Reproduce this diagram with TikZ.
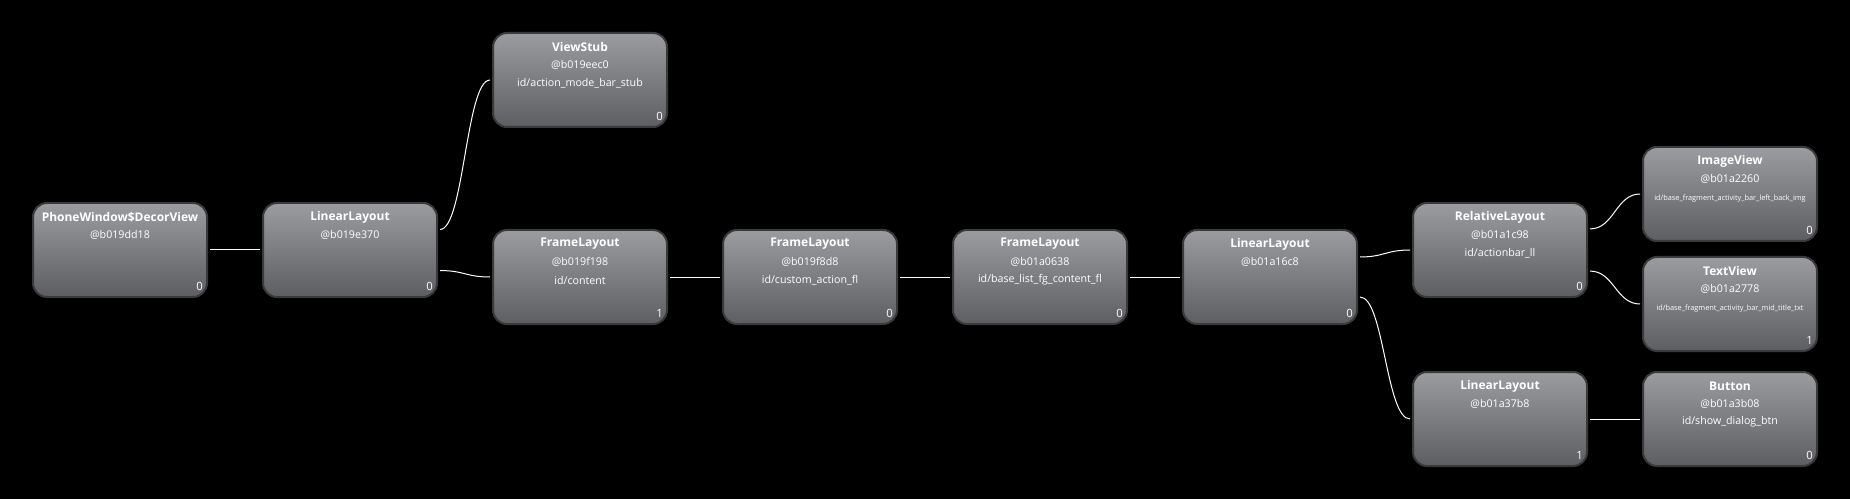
\documentclass[tikz,border=0pt]{standalone}
\usepackage{fontspec}
\setmainfont{Open Sans}
\usetikzlibrary{arrows.meta}

\begin{document}
\begin{tikzpicture}[x=0.75pt,y=-0.75pt]

\definecolor{hvback}{HTML}{000000}
\definecolor{hvtop}{HTML}{9A9C9F}
\definecolor{hvbottom}{HTML}{5C5E61}
\definecolor{hvborder}{HTML}{3A3A3A}
\definecolor{hvtext}{HTML}{FFFFFF}
\definecolor{hvlink}{HTML}{FFFFFF}

\tikzset{
  viewbox/.style={
    rectangle, rounded corners=10.5pt, draw=hvborder, line width=1.5pt,
    top color=hvtop, bottom color=hvbottom,
    minimum width=130.5pt, minimum height=70.5pt, inner sep=0pt
  },
  viewtitle/.style={text=hvtext, inner sep=0pt,
    font=\bfseries\fontsize{9}{10}\selectfont},
  viewaddr/.style={text=hvtext, inner sep=0pt,
    font=\fontsize{8}{9}\selectfont},
  viewid/.style={viewaddr},
  viewidsmall/.style={text=hvtext, inner sep=0pt,
    font=\fontsize{5.5}{6}\selectfont},
  viewindex/.style={text=hvtext, anchor=east, inner sep=0pt,
    font=\fontsize{8.5}{9}\selectfont},
  link/.style={draw=hvlink, line width=0.75pt}
}

% One box of the view tree: name, centre, class, address, child index.
\newcommand{\hvView}[6]{%
  \node[viewbox] (#1) at (#2,#3) {};
  \node[viewtitle] (#1-t) at ([yshift=-11.25pt]#1.north) {#4};
  \node[viewaddr]  (#1-a) at ([yshift=-24.75pt]#1.north) {#5};
  \node[viewindex] (#1-n) at ([xshift=-3.75pt,yshift=9pt]#1.south east) {#6};
}

\fill[hvback] (0,0) rectangle (1850,499);
\useasboundingbox (0,0) rectangle (1850,499);

% Root and first level.
\hvView{pw}{120}{250}{PhoneWindow\$DecorView}{@b019dd18}{0}
\hvView{ll1}{350}{250}{LinearLayout}{@b019e370}{0}
\hvView{vs}{580}{80}{ViewStub}{@b019eec0}{0}

% Content chain.
\hvView{fl1}{580}{277}{FrameLayout}{@b019f198}{1}
\hvView{fl2}{810}{277}{FrameLayout}{@b019f8d8}{0}
\hvView{fl3}{1040}{277}{FrameLayout}{@b01a0638}{0}
\hvView{ll6}{1270}{277}{LinearLayout}{@b01a16c8}{0}

% Action bar and dialog button branch.
\hvView{rl}{1500}{250}{RelativeLayout}{@b01a1c98}{0}
\hvView{ll7}{1500}{419}{LinearLayout}{@b01a37b8}{1}
\hvView{iv}{1730}{194}{ImageView}{@b01a2260}{0}
\hvView{tv}{1730}{304}{TextView}{@b01a2778}{1}
\hvView{bt}{1730}{419}{Button}{@b01a3b08}{0}

% Resource ids, where a view has one.
\foreach \vname/\idtext in {
  vs/action\_mode\_bar\_stub, fl1/content, fl2/custom\_action\_fl,
  fl3/base\_list\_fg\_content\_fl, rl/actionbar\_ll, bt/show\_dialog\_btn}
  \node[viewid] (\vname-i) at ([yshift=-38.25pt]\vname.north) {id/\idtext};
\node[viewidsmall] (iv-i) at ([yshift=-39.5pt]iv.north)
  {id/base\_fragment\_activity\_bar\_left\_back\_img};
\node[viewidsmall] (tv-i) at ([yshift=-39.5pt]tv.north)
  {id/base\_fragment\_activity\_bar\_mid\_title\_txt};

% Single children: straight links.
\foreach \from/\to in {pw/ll1, fl1/fl2, fl2/fl3, fl3/ll6, ll7/bt}
  \draw[link] ([xshift=1.5pt]\from.east) -- ([xshift=-1.5pt]\to.west);

% Two children: S-curves leaving above and below the centre (offset in pt).
\foreach \from/\to/\dy in {
  ll1/vs/15.4, ll1/fl1/-15.4, ll6/rl/15, ll6/ll7/-15,
  rl/iv/15.8, rl/tv/-15.8}
  \draw[link] ([xshift=1.5pt,yshift=\dy pt]\from.east)
    .. controls +(24,0) and +(-24,0) .. ([xshift=-1.5pt]\to.west);

\end{tikzpicture}
\end{document}
